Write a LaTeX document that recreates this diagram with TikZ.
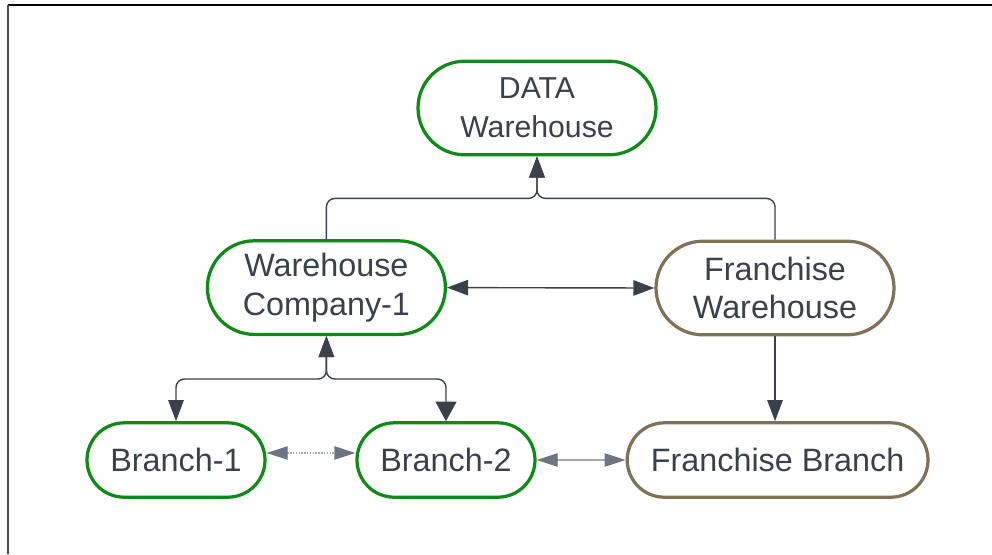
\documentclass[tikz,border=0pt]{standalone}
\usepackage{fontspec}
\setmainfont{Liberation Sans}
\usetikzlibrary{arrows.meta,positioning,calc}
\definecolor{NodeGreen}{HTML}{0E8A16}
\definecolor{NodeBrown}{HTML}{807058}
\definecolor{InkDark}{HTML}{3A414A}
\definecolor{InkGrey}{HTML}{6E7580}
\definecolor{LineGrey}{HTML}{A3A8B0}

\begin{document}
\begin{tikzpicture}[
        pill/.style={draw=NodeGreen,line width=2.3pt,rounded corners=#1,fill=white,
                     align=center,text=InkDark,inner sep=0pt,
                     font=\fontsize{23}{27.5}\selectfont},
        big/.style={pill=1.17cm,minimum width=5.95cm,minimum height=2.34cm},
        small/.style={pill=0.93cm,minimum width=4.45cm,minimum height=1.86cm},
        link/.style={draw=InkDark,line width=1pt,rounded corners=6pt,
                     {Triangle[length=15pt,width=11pt]}-{Triangle[length=15pt,width=11pt]}},
        widelink/.style={draw=InkDark,line width=1pt,rounded corners=6pt,
                     {Triangle[length=15pt,width=11pt]}-{Triangle[length=14pt,width=15pt]}},
        uplink/.style={draw=InkDark,line width=1pt,rounded corners=6pt,
                     -{Triangle[length=15pt,width=11pt]}},
        sidelink/.style={draw=LineGrey,line width=1pt,
                     {Triangle[length=15pt,width=9.5pt,color=InkGrey]}-{Triangle[length=15pt,width=9.5pt,color=InkGrey]}}]
      \useasboundingbox (0,0) rectangle (24.8,-13.85);
      \draw[line width=1.4pt] (0.2,-0.125) -- (24.8,-0.125);
      \draw[line width=1.4pt,black!70] (0.21,-0.125) -- (0.21,-13.85);
      \node[big,font=\fontsize{21.5}{27.5}\selectfont] (data) at (13.425,-2.7) {\raisebox{-2pt}{DATA}\\\raisebox{-2pt}{Warehouse}};
      \node[big] (wh1) at (8.16,-7.19) {Warehouse\\Company-1};
      \node[big,draw=NodeBrown] (fwh) at (19.375,-7.2) {Franchise\\Warehouse};
      \node[small] (br1) at (4.4,-11.5) {Branch-1};
      \node[small] (br2) at (11.15,-11.5) {Branch-2};
      \node[small,draw=NodeBrown,minimum width=7.52cm] (fbr) at (19.44,-11.5) {Franchise Branch};
      \coordinate (top) at ($(data.south)+(0,-1.05)$);
      \coordinate (low) at ($(wh1.south)+(0,-1.075)$);
      \draw[uplink] (wh1.north) |- (top) -- (data.south);
      \draw[uplink] (fwh.north) |- (top) -- (data.south);
      \draw[link] (wh1.south) -- (low) -| (br1.north);
      \draw[widelink] (wh1.south) -- (low) -| (br2.north);
      \draw[link] (wh1.east) -- (fwh.west);
      \draw[uplink] (fwh.south) -- (fwh.south |- fbr.north);
      \draw[sidelink,dash pattern=on 1pt off 1pt] ([yshift=5pt]br1.east) -- ([yshift=5pt]br2.west);
      \draw[sidelink] (br2.east) -- (fbr.west);
    \end{tikzpicture}
\end{document}
